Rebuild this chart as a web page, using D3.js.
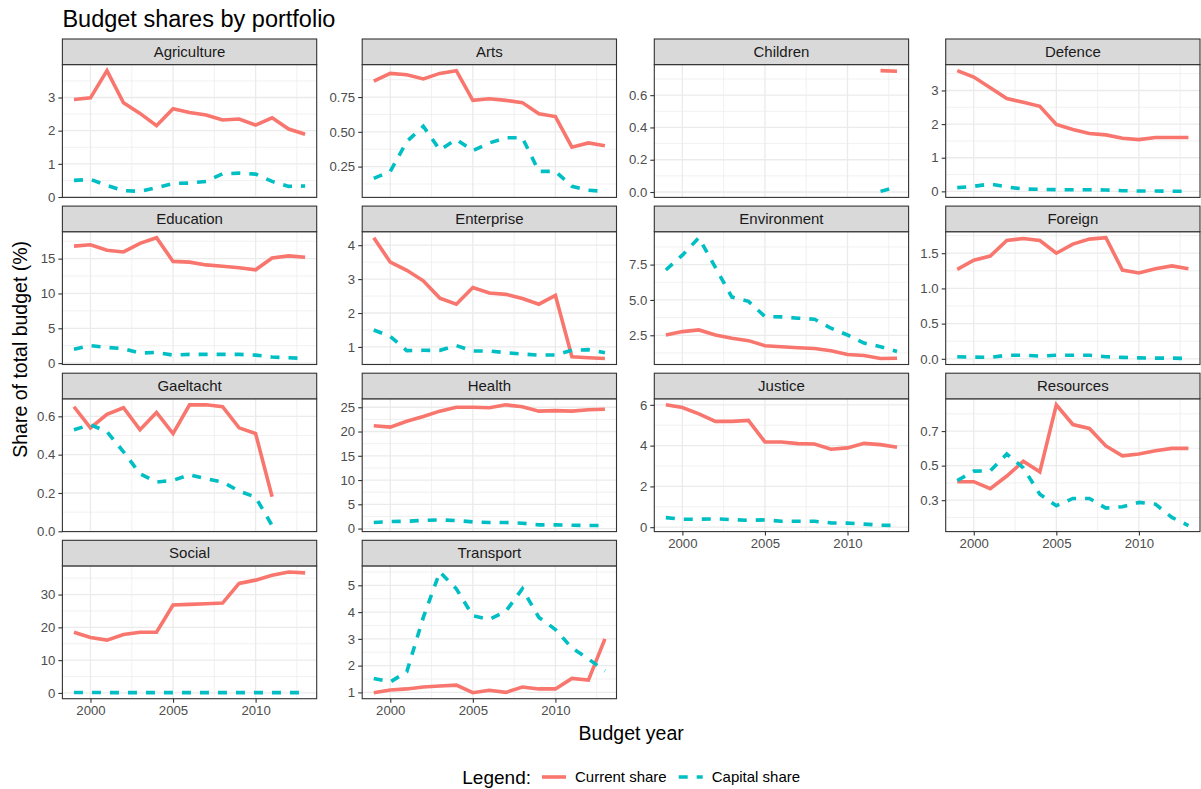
<!DOCTYPE html>
<meta charset="utf-8">
<style type="text/css">

body { margin: 0; background: #fff; }

text { font-family: "Liberation Sans", Arial, sans-serif; }

.grid-major { stroke: #ebebeb; stroke-width: 1.3; }
.grid-minor { stroke: #ebebeb; stroke-width: 0.7; }

.panel-border { fill: none; stroke: #333333; stroke-width: 1.1; }
.strip { fill: #d9d9d9; stroke: #333333; stroke-width: 1.1; }
.strip-label { font-size: 15px; fill: #1a1a1a; }

.axis .domain { display: none; }
.axis line { stroke: #333333; stroke-width: 1.1; }
.axis text { font-size: 13.2px; fill: #4d4d4d; font-family: "Liberation Sans", Arial, sans-serif; }

.current { fill: none; stroke: #F8766D; stroke-width: 3.6; }
.capital { fill: none; stroke: #00BFC4; stroke-width: 3.6; stroke-dasharray: 9,9; }

</style>
<body>
</body>

<script src="https://d3js.org/d3.v7.min.js"></script>
<script>

var years = [1999, 2000, 2001, 2002, 2003, 2004, 2005, 2006, 2007, 2008, 2009, 2010, 2011, 2012, 2013];

var portfolios = ["Agriculture", "Arts", "Children", "Defence", "Education", "Enterprise", "Environment",
                  "Foreign", "Gaeltacht", "Health", "Justice", "Resources", "Social", "Transport"];

var currentShare = [
  [2.94, 2.99, 3.81, 2.84, 2.52, 2.15, 2.66, 2.55, 2.47, 2.32, 2.35, 2.17, 2.39, 2.05, 1.89],
  [0.865, 0.92, 0.91, 0.88, 0.92, 0.94, 0.726, 0.738, 0.726, 0.71, 0.63, 0.61, 0.39, 0.42, 0.40],
  [null, null, null, null, null, null, null, null, null, null, null, null, null, 0.752, 0.748],
  [3.59, 3.40, 3.08, 2.76, 2.65, 2.53, 1.99, 1.84, 1.72, 1.68, 1.58, 1.54, 1.60, 1.60, 1.60],
  [16.8, 17.0, 16.2, 15.96, 17.2, 18.0, 14.6, 14.5, 14.1, 13.9, 13.7, 13.4, 15.1, 15.4, 15.2],
  [4.22, 3.50, 3.26, 2.95, 2.44, 2.26, 2.75, 2.59, 2.55, 2.43, 2.26, 2.52, 0.71, 0.68, 0.66],
  [2.52, 2.76, 2.88, 2.52, 2.29, 2.12, 1.76, 1.69, 1.62, 1.57, 1.40, 1.14, 1.07, 0.86, 0.88],
  [1.27, 1.40, 1.46, 1.68, 1.71, 1.68, 1.50, 1.63, 1.70, 1.72, 1.26, 1.22, 1.28, 1.32, 1.28],
  [0.65, 0.54, 0.61, 0.645, 0.53, 0.62, 0.51, 0.66, 0.66, 0.65, 0.54, 0.51, 0.18, null, null],
  [21.2, 20.9, 22.1, 23.1, 24.2, 25.0, 25.0, 24.9, 25.5, 25.1, 24.2, 24.3, 24.2, 24.5, 24.6],
  [6.0, 5.87, 5.56, 5.19, 5.19, 5.24, 4.18, 4.18, 4.10, 4.08, 3.82, 3.89, 4.11, 4.05, 3.92],
  [0.407, 0.407, 0.367, 0.44, 0.525, 0.464, 0.852, 0.738, 0.715, 0.614, 0.557, 0.567, 0.586, 0.60, 0.60],
  [18.5, 16.9, 16.1, 17.8, 18.5, 18.5, 26.8, 27.0, 27.2, 27.4, 33.4, 34.4, 35.9, 36.9, 36.6],
  [0.99, 1.09, 1.13, 1.2, 1.24, 1.27, 0.99, 1.08, 1.0, 1.2, 1.13, 1.13, 1.52, 1.46, 3.0]
];

var capitalShare = [
  [0.5, 0.53, 0.35, 0.19, 0.17, 0.28, 0.41, 0.42, 0.47, 0.7, 0.72, 0.69, 0.47, 0.32, 0.33],
  [0.166, 0.216, 0.43, 0.54, 0.37, 0.445, 0.365, 0.42, 0.457, 0.457, 0.216, 0.216, 0.108, 0.08, 0.072],
  [null, null, null, null, null, null, null, null, null, null, null, null, null, 0.004, 0.033],
  [0.11, 0.15, 0.22, 0.13, 0.07, 0.06, 0.05, 0.05, 0.05, 0.04, 0.02, 0.01, 0.01, 0.005, 0.0],
  [2.0, 2.5, 2.26, 2.07, 1.44, 1.54, 1.15, 1.25, 1.25, 1.25, 1.25, 1.15, 0.87, 0.77, 0.67],
  [1.50, 1.31, 0.89, 0.90, 0.90, 1.04, 0.88, 0.88, 0.83, 0.79, 0.76, 0.76, 0.90, 0.92, 0.83],
  [7.12, 8.17, 9.4, 7.3, 5.2, 4.9, 3.83, 3.8, 3.71, 3.64, 3.0, 2.52, 1.95, 1.69, 1.35],
  [0.03, 0.024, 0.02, 0.05, 0.05, 0.04, 0.05, 0.05, 0.05, 0.03, 0.02, 0.014, 0.01, 0.01, 0.005],
  [0.53, 0.556, 0.52, 0.415, 0.30, 0.257, 0.266, 0.295, 0.274, 0.257, 0.21, 0.178, 0.03, null, null],
  [1.24, 1.44, 1.5, 1.7, 1.8, 1.65, 1.37, 1.24, 1.24, 1.1, 0.76, 0.76, 0.69, 0.62, 0.62],
  [0.47, 0.39, 0.39, 0.41, 0.37, 0.34, 0.36, 0.29, 0.29, 0.29, 0.21, 0.2, 0.15, 0.1, 0.08],
  [0.414, 0.468, 0.47, 0.567, 0.487, 0.334, 0.268, 0.31, 0.31, 0.254, 0.262, 0.287, 0.277, 0.20, 0.153],
  [0.15, 0.12, 0.1, 0.1, 0.1, 0.1, 0.1, 0.1, 0.1, 0.1, 0.1, 0.08, 0.08, 0.08, 0.08],
  [1.52, 1.39, 1.77, 3.8, 5.5, 4.87, 3.86, 3.73, 4.03, 4.87, 3.8, 3.35, 2.66, 2.25, 1.8]
];

var yTickLabels = [
  ["0", "1", "2", "3"],
  ["0.25", "0.50", "0.75"],
  ["0.0", "0.2", "0.4", "0.6"],
  ["0", "1", "2", "3"],
  ["0", "5", "10", "15"],
  ["1", "2", "3", "4"],
  ["2.5", "5.0", "7.5"],
  ["0.0", "0.5", "1.0", "1.5"],
  ["0.0", "0.2", "0.4", "0.6"],
  ["0", "5", "10", "15", "20", "25"],
  ["0", "2", "4", "6"],
  ["0.3", "0.5", "0.7"],
  ["0", "10", "20", "30"],
  ["1", "2", "3", "4", "5"]
];

var xTicks = [2000, 2005, 2010];

var seriesNames = ["Current share", "Capital share"];

// layout
var colLeft = [62.4, 362.2, 654.3, 945.7]
  , panelW = 254.3
  , rowTop = 39
  , rowStep = 167.1
  , stripH = 25.6
  , panelH = 132.8;

var svg = d3.select("body").append("svg")
    .attr("width", 1201)
    .attr("height", 789);

svg.append("text")
    .attr("x", 62.4)
    .attr("y", 27)
    .attr("font-size", "23.5px")
    .attr("fill", "#000")
    .text("Budget shares by portfolio");

var line = d3.line()
    .defined(function(d) { return d.v != null; });

function expand(lo, hi) {
  var pad = (hi - lo) * 0.05;
  return [lo - pad, hi + pad];
}

function minorBreaks(majors, domain) {
  var step = majors[1] - majors[0], out = [];
  for (var k = majors[0] - step; k <= majors[majors.length - 1] + step / 2; k += step) {
    var m = k + step / 2;
    if (m > domain[0] && m < domain[1]) out.push(m);
  }
  return out;
}

var xDomain = expand(years[0], years[years.length - 1]);
var xMinor = minorBreaks(xTicks, xDomain);

portfolios.forEach(function(name, i) {
  var row = Math.floor(i / 4), col = i % 4;
  var left = colLeft[col]
    , stripTop = rowTop + row * rowStep
    , top = stripTop + stripH
    , bottom = top + panelH;

  var cur = years.map(function(y, j) { return {year: y, v: currentShare[i][j]}; });
  var cap = years.map(function(y, j) { return {year: y, v: capitalShare[i][j]}; });
  var vals = currentShare[i].concat(capitalShare[i]).filter(function(v) { return v != null; });

  var xScale = d3.scaleLinear().domain(xDomain).range([left, left + panelW]);
  var yScale = d3.scaleLinear().domain(expand(d3.min(vals), d3.max(vals))).range([bottom, top]);

  var yTicks = yTickLabels[i].map(Number);
  var yMinor = minorBreaks(yTicks, yScale.domain());

  var g = svg.append("g");

  // grid
  g.selectAll(".gy-minor").data(yMinor).enter().append("line")
      .attr("class", "grid-minor")
      .attr("x1", left).attr("x2", left + panelW)
      .attr("y1", function(d) { return yScale(d); })
      .attr("y2", function(d) { return yScale(d); });
  g.selectAll(".gx-minor").data(xMinor).enter().append("line")
      .attr("class", "grid-minor")
      .attr("y1", top).attr("y2", bottom)
      .attr("x1", function(d) { return xScale(d); })
      .attr("x2", function(d) { return xScale(d); });
  g.selectAll(".gy-major").data(yTicks).enter().append("line")
      .attr("class", "grid-major")
      .attr("x1", left).attr("x2", left + panelW)
      .attr("y1", function(d) { return yScale(d); })
      .attr("y2", function(d) { return yScale(d); });
  g.selectAll(".gx-major").data(xTicks).enter().append("line")
      .attr("class", "grid-major")
      .attr("y1", top).attr("y2", bottom)
      .attr("x1", function(d) { return xScale(d); })
      .attr("x2", function(d) { return xScale(d); });

  // lines
  line.x(function(d) { return xScale(d.year); })
      .y(function(d) { return yScale(d.v); });

  g.append("path").datum(cur).attr("class", "current").attr("d", line);
  g.append("path").datum(cap).attr("class", "capital").attr("d", line);

  g.append("rect")
      .attr("class", "panel-border")
      .attr("x", left).attr("y", top)
      .attr("width", panelW).attr("height", panelH);

  // strip
  g.append("rect")
      .attr("class", "strip")
      .attr("x", left).attr("y", stripTop)
      .attr("width", panelW).attr("height", stripH);
  g.append("text")
      .attr("class", "strip-label")
      .attr("x", left + panelW / 2)
      .attr("y", stripTop + stripH / 2)
      .attr("dy", "0.35em")
      .attr("text-anchor", "middle")
      .text(name);

  // axes
  var ya = g.append("g")
      .attr("class", "axis")
      .attr("transform", "translate(" + left + ",0)")
      .call(d3.axisLeft(yScale)
        .tickValues(yTicks)
        .tickSize(4)
        .tickPadding(3)
        .tickFormat(function(d, k) { return yTickLabels[i][k]; }));
  ya.attr("font-size", null).attr("font-family", null);

  if (i + 4 >= portfolios.length) {
    var xa = g.append("g")
        .attr("class", "axis")
        .attr("transform", "translate(0," + bottom + ")")
        .call(d3.axisBottom(xScale)
          .tickValues(xTicks)
          .tickSize(4)
          .tickPadding(3)
          .tickFormat(d3.format("d")));
    xa.attr("font-size", null).attr("font-family", null);
  }
});

// axis titles
var panelsMid = (colLeft[0] + colLeft[3] + panelW) / 2;

svg.append("text")
    .attr("x", panelsMid)
    .attr("y", 740)
    .attr("text-anchor", "middle")
    .attr("font-size", "19.5px")
    .text("Budget year");

svg.append("text")
    .attr("transform", "translate(27," + (rowTop + (3 * rowStep + stripH + panelH)) / 2 + ") rotate(-90)")
    .attr("text-anchor", "middle")
    .attr("font-size", "19.5px")
    .text("Share of total budget (%)");

// legend
var legend = svg.append("g");
var lx = 0, ly = 777;

var lt = legend.append("text")
    .attr("x", lx).attr("y", ly)
    .attr("dy", "0.35em")
    .attr("font-size", "19px")
    .text("Legend:");
lx += lt.node().getComputedTextLength() + 11;

seriesNames.forEach(function(s, k) {
  legend.append("line")
      .attr("class", k === 0 ? "current" : "capital")
      .attr("x1", lx).attr("x2", lx + 24)
      .attr("y1", ly).attr("y2", ly);
  lx += 24 + 9;
  var t = legend.append("text")
      .attr("x", lx).attr("y", ly)
      .attr("dy", "0.35em")
      .attr("font-size", "15px")
      .text(s);
  lx += t.node().getComputedTextLength() + 12;
});
lx -= 12;
legend.attr("transform", "translate(" + (panelsMid - lx / 2) + ",0)");

</script>
